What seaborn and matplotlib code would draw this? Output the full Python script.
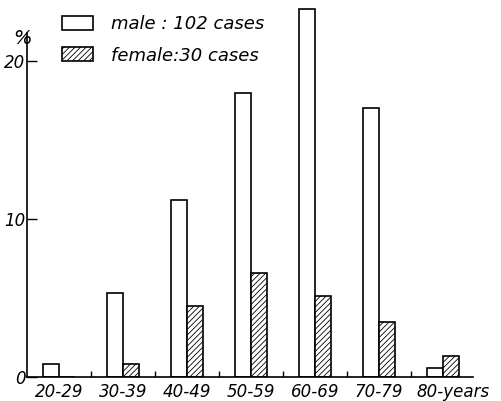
import matplotlib
matplotlib.use("Agg")
import matplotlib.pyplot as plt
import matplotlib.patches as mpatches
import matplotlib.transforms as mtransforms
import seaborn as sns
import pandas as pd
from matplotlib.ticker import FixedLocator

age_groups = ["20-29", "30-39", "40-49", "50-59", "60-69", "70-79", "80-years"]
male_pct = [0.8, 5.3, 11.2, 18.0, 23.3, 17.0, 0.6]
female_pct = [0.0, 0.8, 4.5, 6.6, 5.1, 3.5, 1.3]
series_labels = ["male : 102 cases", "female:30 cases"]
y_ticks = [0, 10, 20]

df = pd.DataFrame({
    "age": age_groups * 2,
    "pct": male_pct + female_pct,
    "sex": [series_labels[0]] * len(age_groups) + [series_labels[1]] * len(age_groups),
})

sns.set_style("white")
plt.rcParams["font.family"] = ["DejaVu Sans"]
plt.rcParams["hatch.linewidth"] = 0.6
plt.rcParams["hatch.color"] = "black"
for k in ["text.color", "xtick.color", "ytick.color", "axes.labelcolor"]:
    plt.rcParams[k] = "black"

fig = plt.figure(figsize=(5.02, 4.01), dpi=100)
ax = fig.add_axes([27 / 502, 24 / 401, 446 / 502, 372.9 / 401])

sns.barplot(data=df, x="age", y="pct", hue="sex", order=age_groups,
            hue_order=series_labels, palette=["white", "white"],
            width=0.5, edgecolor="black", linewidth=1.2, ax=ax,
            errorbar=None, legend=False)

n = len(age_groups)
for i, patch in enumerate(ax.patches[:2 * n]):
    if i >= n:
        patch.set_hatch("//////")

ax.set_xlim(-0.5, 6.47)
ax.set_ylim(0, 23.6)
ax.set_xlabel("")
ax.set_ylabel("")

for side in ["top", "right"]:
    ax.spines[side].set_visible(False)
for side in ["left", "bottom"]:
    ax.spines[side].set_color("black")
    ax.spines[side].set_linewidth(1.2)
ax.spines["left"].set_bounds(0, 21.8)

ax.set_yticks(y_ticks)
ax.set_yticklabels([str(t) for t in y_ticks], fontstyle="italic", fontsize=12)
ax.tick_params(axis="y", direction="in", length=7, width=1.0, left=True, pad=1)

ax.tick_params(axis="x", length=0, pad=4)
ax.set_xticks(range(n))
ax.set_xticklabels(age_groups, fontstyle="italic", fontsize=12)
ax.xaxis.set_minor_locator(FixedLocator([i + 0.5 for i in range(n - 1)]))
ax.tick_params(axis="x", which="minor", direction="in", length=4, width=1.0, bottom=True)

last = ax.get_xticklabels()[-1]
last.set_horizontalalignment("left")
last.set_transform(last.get_transform() + mtransforms.ScaledTranslation(-26 / 100, 0, fig.dpi_scale_trans))

fig.text(22 / 502, 1 - 38 / 401, "%", ha="center", va="center",
         fontsize=14, fontstyle="italic")

handles = [
    mpatches.Patch(facecolor="white", edgecolor="black", linewidth=1.2),
    mpatches.Patch(facecolor="white", edgecolor="black", linewidth=1.2, hatch="//////"),
]
ax.legend(handles, series_labels, loc="upper left",
          bbox_to_anchor=(62 / 502, 1 - 15 / 401),
          bbox_transform=fig.transFigure, frameon=False,
          prop={"style": "italic", "size": 13},
          handlelength=1.7, handleheight=0.8, handletextpad=1.0,
          labelspacing=0.75, borderpad=0, borderaxespad=0)

fig.savefig("out.png", dpi=100, facecolor="white")
